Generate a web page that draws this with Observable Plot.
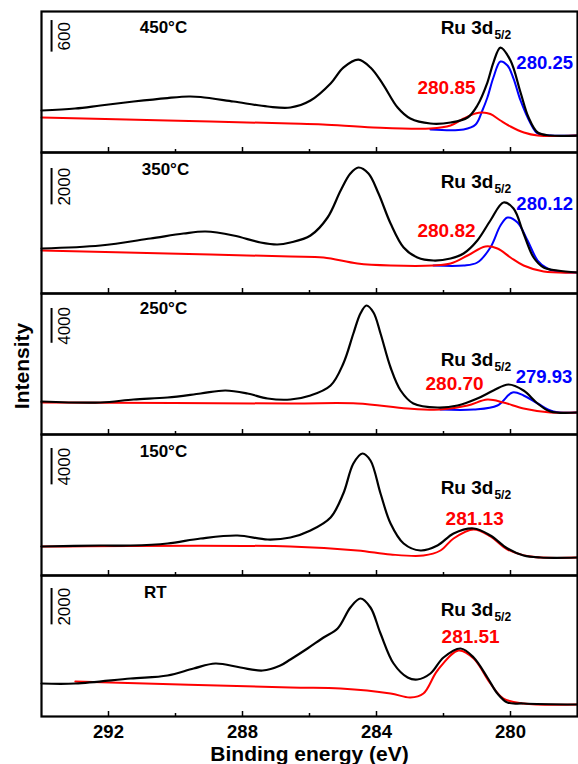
<!DOCTYPE html>
<html><head><meta charset="utf-8">
<script src="https://cdn.jsdelivr.net/npm/d3@7"></script>
<script src="https://cdn.jsdelivr.net/npm/@observablehq/plot@0.6"></script>
<style>
body{margin:0;background:#fff;width:578px;height:764px;overflow:hidden}
#chart svg{display:block;overflow:visible}
</style>
</head><body><div id="chart"></div>
<script>
// ---- data (binding energy eV, intensity counts) ----
const temperatures = ["450°C", "350°C", "250°C", "150°C", "RT"];
const ruLabel = "Ru 3d";
const ruSub = "5/2";
const redPeakLabels = ["280.85", "280.82", "280.70", "281.13", "281.51"];
const bluePeakLabels = ["280.25", "280.12", "279.93", null, null];
const scaleBarValues = [600, 2000, 4000, 4000, 2000];
const majorTicks = [292, 288, 284, 280];
const minorTicks = [290, 286, 282];
const xTitle = "Binding energy (eV)";
const yTitle = "Intensity";

const black450 = [[294,798],[293.0,836],[292.24,893],[291.25,969],[290.24,1035],[289.6,1064],[289.25,1055],[288.27,969],[287.25,874],[286.57,855],[285.97,988],[285.37,1311],[284.99,1615],[284.54,1767],[284.18,1615],[283.82,1311],[283.37,855],[282.99,646],[282.39,551],[281.79,570],[281.28,665],[280.99,893],[280.69,1330],[280.51,1710],[280.30,1995],[280.00,1748],[279.70,1140],[279.46,665],[279.19,380],[278.81,323],[277.97,323]];
const red450 = [[294,665],[290.24,608],[286.57,551],[285.6,532],[284.1,475],[282.39,456],[281.79,513],[281.40,646],[281.05,741],[280.84,760],[280.60,731],[280.30,608],[280.00,494],[279.60,380],[279.19,323],[277.97,323]];
const blue450 = [[282.39,437],[281.40,437],[281.04,532],[280.84,798],[280.69,1045],[280.51,1425],[280.30,1729],[280.09,1653],[279.91,1406],[279.70,988],[279.40,551],[279.19,361],[278.81,323],[277.97,323]];

const black350 = [[294,2475],[292.24,2640],[290.75,3025],[289.76,3300],[289.10,3410],[288.27,3190],[287.46,2805],[286.96,2695],[286.57,2805],[285.97,3190],[285.46,4180],[285.07,5665],[284.78,6600],[284.54,6930],[284.24,6600],[283.94,5500],[283.58,3850],[283.19,2530],[282.78,1980],[282.30,1815],[281.79,1925],[281.40,2200],[280.99,2915],[280.60,4015],[280.21,5005],[279.91,4675],[279.61,3300],[279.31,1980],[279.01,1430],[278.60,1265],[278.00,1155]];
const red350 = [[294,2365],[290.24,2200],[286.57,2035],[285.58,1980],[284.57,1650],[283.58,1540],[282.30,1540],[281.79,1650],[281.28,2090],[280.75,2585],[280.39,2475],[280.00,1980],[279.61,1540],[279.01,1210],[278.00,1155]];
const blue350 = [[282.30,1540],[281.40,1540],[280.99,1705],[280.60,2530],[280.30,3740],[280.09,4180],[279.79,3905],[279.49,2915],[279.19,1815],[278.90,1375],[278.60,1210],[278.00,1155]];

const black250 = [[294,3795],[292.24,3680],[291.25,4025],[290.24,4255],[289.25,4715],[288.51,5060],[287.85,4715],[287.25,4140],[286.57,4025],[285.97,4485],[285.37,5635],[284.99,8165],[284.69,11615],[284.48,13915],[284.30,14835],[284.09,14030],[283.88,11615],[283.58,7705],[283.28,5060],[282.90,3565],[282.18,3105],[281.58,3335],[280.99,4140],[280.51,5060],[280.06,5750],[279.61,5060],[279.19,3565],[278.81,2645],[278.00,2530]];
const red250 = [[294,3680],[286.57,3565],[284.57,3565],[283.07,2990],[282.09,2875],[281.28,3335],[280.69,4025],[280.21,3680],[279.61,2990],[278.81,2530],[278.00,2530]];
const blue250 = [[282.09,2875],[281.10,2875],[280.39,3335],[279.94,4830],[279.61,4485],[279.19,3565],[278.72,2645],[278.00,2530]];

const black150 = [[294,3190],[292.24,3300],[291.34,3300],[290.24,3520],[289.25,4070],[288.15,4400],[287.25,3960],[286.57,4180],[285.97,4950],[285.37,6380],[284.99,9020],[284.69,12320],[284.42,13420],[284.18,12650],[283.88,9020],[283.58,5720],[283.19,3520],[282.69,2750],[282.18,3300],[281.70,4620],[281.10,5170],[280.60,4400],[280.09,2970],[279.61,2200],[279.10,1980],[278.00,1980]];
const red150 = [[294,3190],[286.57,3190],[284.57,2750],[283.58,2310],[282.60,2200],[282.09,2750],[281.70,4070],[281.10,5060],[280.60,4290],[280.09,2860],[279.40,2090],[278.00,1980]];

const blackRT = [[294,1815],[292.99,1815],[291.34,2090],[290.24,2255],[289.46,2640],[288.81,2915],[288.06,2695],[287.40,2530],[286.87,2805],[286.57,3135],[286.06,3740],[285.58,4345],[285.16,4840],[284.78,5995],[284.48,6490],[284.18,5995],[283.88,4565],[283.49,2915],[283.07,2145],[282.78,2035],[282.39,2365],[282.00,3245],[281.49,3740],[281.10,3245],[280.69,2145],[280.39,1265],[280.09,770],[279.61,715],[278.00,660]];
const redRT = [[292.99,1925],[286.57,1595],[285.07,1540],[283.58,1265],[282.99,1045],[282.60,1265],[282.18,2530],[281.55,3630],[281.10,3190],[280.60,1815],[280.21,990],[279.61,715],[278.00,660]];

const blackSeries = [black450, black350, black250, black150, blackRT];
const redSeries = [red450, red350, red250, red150, redRT];
const blueSeries = [blue450, blue350, blue250, null, null];

// ---- layout (annotation placement) ----
const layout = [
  {yMax: 2680,  barTop: 2508,  tempX: 290.36, tempDy: 21, ruX: 280.51, ruDy: 22, redX: 281.91, redDy: 82, blueX: 278.98, blueDy: 57},
  {yMax: 7755,  barTop: 6875,  tempX: 290.30, tempDy: 22, ruX: 280.51, ruDy: 35, redX: 281.91, redDy: 84, blueX: 278.98, blueDy: 57},
  {yMax: 16215, barTop: 14490, tempX: 290.36, tempDy: 20, ruX: 280.51, ruDy: 72, redX: 281.67, redDy: 96, blueX: 279.00, blueDy: 89},
  {yMax: 15510, barTop: 13970, tempX: 290.36, tempDy: 22, ruX: 280.51, ruDy: 59, redX: 281.07, redDy: 90},
  {yMax: 7755,  barTop: 7040,  tempX: 290.60, tempDy: 22, ruX: 280.51, ruDy: 40, redX: 281.19, redDy: 67}
];

const FONT = "'Liberation Sans', Arial, Helvetica, sans-serif";
const PH = 141;
const barX = 293.7;
const CURVE = "catmull-rom";
const chart = document.getElementById("chart");
const xy = {x: d => d[0], y: d => d[1]};

temperatures.forEach((temp, i) => {
  const L = layout[i];
  const first = i === 0, last = i === temperatures.length - 1;
  const mt = first ? 11 : 0, mb = last ? 48 : 0;
  const txt = (extra) => Object.assign({text: d => d, fontFamily: FONT, lineAnchor: "bottom"}, extra);
  const marks = [];
  if (blueSeries[i]) marks.push(Plot.line(blueSeries[i], {...xy, stroke: "#0000ff", strokeWidth: 2, curve: CURVE}));
  marks.push(Plot.line(redSeries[i], {...xy, stroke: "#ff0000", strokeWidth: 2, curve: CURVE}));
  marks.push(Plot.line(blackSeries[i], {...xy, stroke: "#000", strokeWidth: 2.2, curve: CURVE}));
  marks.push(Plot.tickX(majorTicks, {x: d => d, insetTop: PH - 5, stroke: "#000", strokeWidth: 1.5}));
  marks.push(Plot.tickX(minorTicks, {x: d => d, insetTop: PH - 3, stroke: "#000", strokeWidth: 1.5}));
  marks.push(Plot.frame({stroke: "#000", strokeWidth: 2.2}));
  // scale bar
  marks.push(Plot.ruleX([barX], {x: d => d, y1: L.barTop - scaleBarValues[i], y2: L.barTop, stroke: "#000", strokeWidth: 2}));
  marks.push(Plot.text([String(scaleBarValues[i])], {x: barX, y: L.barTop - scaleBarValues[i] / 2, dx: 13, rotate: -90, text: d => d, fontFamily: FONT, fontSize: 17, textAnchor: "middle", lineAnchor: "middle", fill: "#000"}));
  // labels
  marks.push(Plot.text([temp], txt({x: L.tempX, frameAnchor: "top", dy: L.tempDy, fontSize: 17, fontWeight: "bold", textAnchor: "middle", fill: "#000"})));
  marks.push(Plot.text([ruLabel], txt({x: L.ruX, frameAnchor: "top", dy: L.ruDy, fontSize: 19, fontWeight: "bold", textAnchor: "end", fill: "#000"})));
  marks.push(Plot.text([ruSub], txt({x: L.ruX, frameAnchor: "top", dy: L.ruDy + 5, dx: 1, fontSize: 12, fontWeight: "bold", textAnchor: "start", fill: "#000"})));
  marks.push(Plot.text([redPeakLabels[i]], txt({x: L.redX, frameAnchor: "top", dy: L.redDy, fontSize: 19, fontWeight: "bold", textAnchor: "middle", fill: "#ff0000"})));
  if (bluePeakLabels[i]) marks.push(Plot.text([bluePeakLabels[i]], txt({x: L.blueX, frameAnchor: "top", dy: L.blueDy, fontSize: 18.5, fontWeight: "bold", textAnchor: "middle", fill: "#0000ff"})));
  if (i === 2) marks.push(Plot.text([yTitle], {text: d => d, frameAnchor: "left", dx: -19, dy: 2, rotate: -90, fontFamily: FONT, fontSize: 21, fontWeight: "bold", textAnchor: "middle", lineAnchor: "middle", fill: "#000"}));
  if (last) {
    marks.push(Plot.text(majorTicks, txt({x: d => d, text: d => String(d), frameAnchor: "bottom", dy: 21, fontSize: 18.5, fontWeight: "bold", textAnchor: "middle", fill: "#000"})));
    marks.push(Plot.text([xTitle], txt({frameAnchor: "bottom", dy: 44, fontSize: 21, fontWeight: "bold", textAnchor: "middle", fill: "#000"})));
  }
  const svg = Plot.plot({
    width: 578,
    height: PH + mt + mb,
    marginLeft: 41, marginRight: 1, marginTop: mt, marginBottom: mb,
    x: {domain: [294, 278], axis: null},
    y: {domain: [0, L.yMax], axis: null},
    style: {fontFamily: FONT, background: "transparent", overflow: "visible"},
    marks
  });
  chart.appendChild(svg);
});
</script>
</body></html>
